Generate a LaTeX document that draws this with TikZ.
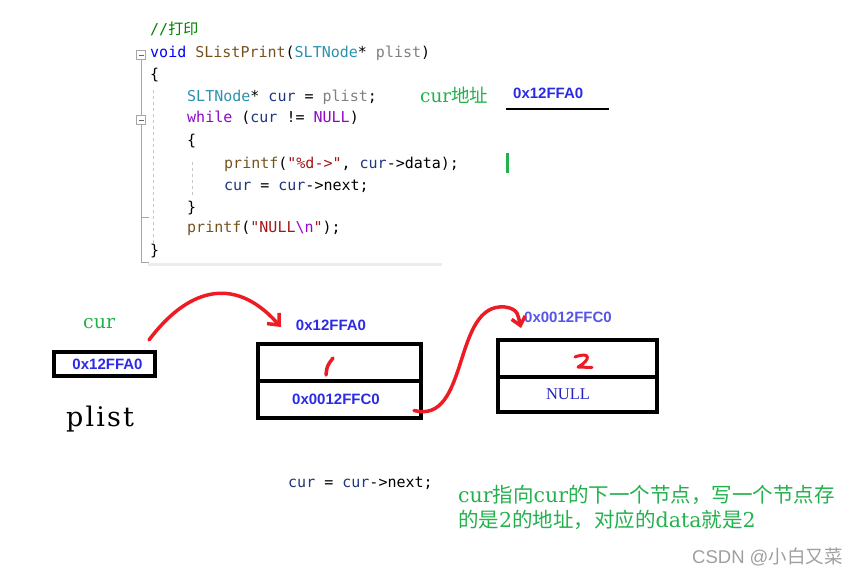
\documentclass[tikz,border=0pt]{standalone}
\usepackage{fontspec}
\usepackage{xcolor}
\usetikzlibrary{arrows.meta, positioning}
\newfontfamily\codefont{DejaVu Sans Mono}
\newfontfamily\hexfont{Liberation Sans}
\newfontfamily\notefont{DejaVu Serif}
\newfontfamily\bigfont{DejaVu Serif}[LetterSpace=8]
\newfontfamily\valfont{Liberation Serif}
\newfontfamily\cjk{Noto Sans CJK SC}
\definecolor{kwblue}{HTML}{0000FF}
\definecolor{kwpurple}{HTML}{8F08C4}
\definecolor{tyteal}{HTML}{2B91AF}
\definecolor{fnbrown}{HTML}{74531F}
\definecolor{strred}{HTML}{A31515}
\definecolor{pmgray}{HTML}{808080}
\definecolor{varblue}{HTML}{1F377F}
\definecolor{cmtgreen}{HTML}{008000}
\definecolor{notegreen}{HTML}{22B14C}
\definecolor{hexblue}{HTML}{2B2BE6}
\definecolor{penred}{HTML}{ED1C24}

\begin{document}
\begin{tikzpicture}[x=1pt, y=-1pt,
    codeline/.style={anchor=base west, inner sep=0pt, font=\fontsize{15}{18}\selectfont\codefont},
    note/.style={anchor=base west, inner sep=0pt, text=notegreen, font=\fontsize{20}{25}\selectfont\notefont},
    hex/.style={inner sep=1pt, text=hexblue, font=\fontsize{15}{18}\selectfont\hexfont\bfseries},
    cell/.style={draw, line width=4pt, inner sep=0pt},
    pen/.style={penred, line width=3.5pt, line cap=round, line join=round}]
    \useasboundingbox (0,0) rectangle (860,575);
    % Editor margin: fold markers and guides
    \draw[gray!70] (141,60) -- (141,262) -- (149,262);
    \draw[gray!70] (141,217) -- (149,217);
    \foreach \fy in {55,120} {
      \draw[gray!70, fill=white] (136.5,\fy-4.5) rectangle (145.5,\fy+4.5);
      \draw[gray!80!black] (138.5,\fy) -- (143.5,\fy);
    }
    \draw[gray!45, dashed] (153,90) -- (153,245);
    \draw[gray!45, dashed] (192,162) -- (192,197);
    \draw[gray!15, line width=3pt] (148,264) -- (442,264);
    % Code
    \node[codeline, text=cmtgreen] (c1) at (150,35) {//{\cjk 打印}};
    \node[codeline] (c2) at (150,58) {\textcolor{kwblue}{void} \textcolor{fnbrown}{SListPrint}(\textcolor{tyteal}{SLTNode}* \textcolor{pmgray}{plist})};
    \node[codeline] (c3) at (150,80) {\{};
    \node[codeline] (c4) at (187,102) {\textcolor{tyteal}{SLTNode}* \textcolor{varblue}{cur} = \textcolor{pmgray}{plist};};
    \node[codeline] (c5) at (187,123) {\textcolor{kwpurple}{while} (\textcolor{varblue}{cur} != \textcolor{kwpurple}{NULL})};
    \node[codeline] (c6) at (187,146) {\{};
    \node[codeline] (c7) at (224,168) {\textcolor{fnbrown}{printf}(\textcolor{strred}{"\%d->"}, \textcolor{varblue}{cur}->data);};
    \node[codeline] (c8) at (224,190) {\textcolor{varblue}{cur} = \textcolor{varblue}{cur}->next;};
    \node[codeline] (c9) at (187,212) {\}};
    \node[codeline] (c10) at (187,233) {\textcolor{fnbrown}{printf}(\textcolor{strred}{"NULL}\textcolor{kwpurple}{\textbackslash n}\textcolor{strred}{"});};
    \node[codeline] (c11) at (150,255) {\}};
    % Address of cur
    \node[note, font=\fontsize{18.5}{22}\selectfont\notefont] (curaddrlbl) at (420,103) {cur{\cjk 地址}};
    \node[hex, anchor=base west, inner sep=0pt] (curaddr) at (513,98.5) {0x12FFA0};
    \draw[line width=1.5pt] (506,109) -- (609,109);
    \fill[notegreen] (506,153) rectangle (509,173);
    % Pointer plist / cur
    \node[note, font=\fontsize{19}{22}\selectfont\notefont] (curlbl) at (83,328) {cur};
    \node[cell, hex, minimum width=101pt, minimum height=24pt] (plistbox) at (104.5,364) {\hspace*{6pt}0x12FFA0};
    \node[anchor=base west, inner sep=0pt, font=\fontsize{27}{30}\selectfont\bigfont] (plistlbl) at (66,426) {plist};
    % First node
    \node[hex] (n1addr) at (331,325) {0x12FFA0};
    \node[cell, minimum width=163pt, minimum height=37pt] (n1data) at (339.5,362.5) {};
    \node[cell, hex, minimum width=163pt, minimum height=37pt] (n1next) at (339.5,399.5) {\hspace*{-7pt}0x0012FFC0};
    % Second node
    \node[hex, text=hexblue!80] (n2addr) at (568,317) {0x0012FFC0};
    \node[cell, minimum width=159pt, minimum height=37pt] (n2data) at (577.5,358.5) {};
    \node[cell, minimum width=159pt, minimum height=35pt, text=hexblue!85!black,
      font=\fontsize{16.5}{18}\selectfont\valfont] (n2next) at (577.5,394.5) {\hspace*{-19pt}NULL};
    % Hand-drawn values and arrows
    \draw[pen] (326,375) .. controls (327,366) .. (333,358);
    \draw[pen, line width=3pt] (575,357) .. controls (591,351) and (591,360) .. (578,367) -- (592,367.5);
    \draw[pen, -{Straight Barb[length=9pt, width=16pt]}]
      ([xshift=-8pt, yshift=10pt]plistbox.north east) .. controls (185,292) and (232,272) .. ([xshift=-14pt, yshift=-2pt]n1addr.west);
    \draw[pen, -{Straight Barb[length=8pt, width=14pt]}]
      ([xshift=-9pt, yshift=-11pt]n1next.east) .. controls (470,425) and (452,302) .. (505,307)
      .. controls (519,309) and (518,316) .. ([xshift=-2pt, yshift=-11pt]n2addr.west);
    % Explanation
    \node[codeline, text=black] (nextline) at (288,487) {\textcolor{varblue}{cur} = \textcolor{varblue}{cur}->next;};
    \node[note, font=\fontsize{20.5}{25}\selectfont\notefont] (expl1) at (458,502) {cur{\cjk 指向}cur{\cjk 的下一个节点，写一个节点存}};
    \node[note, font=\fontsize{20.5}{25}\selectfont\notefont] (expl2) at (458,527) {{\cjk 的是}2{\cjk 的地址，对应的}data{\cjk 就是}2};
    \node[anchor=base west, inner sep=0pt, text=gray!75, font=\fontsize{18.5}{20}\selectfont\hexfont] (mark) at (692,563) {CSDN @{\cjk 小白又菜}};
\end{tikzpicture}
\end{document}
